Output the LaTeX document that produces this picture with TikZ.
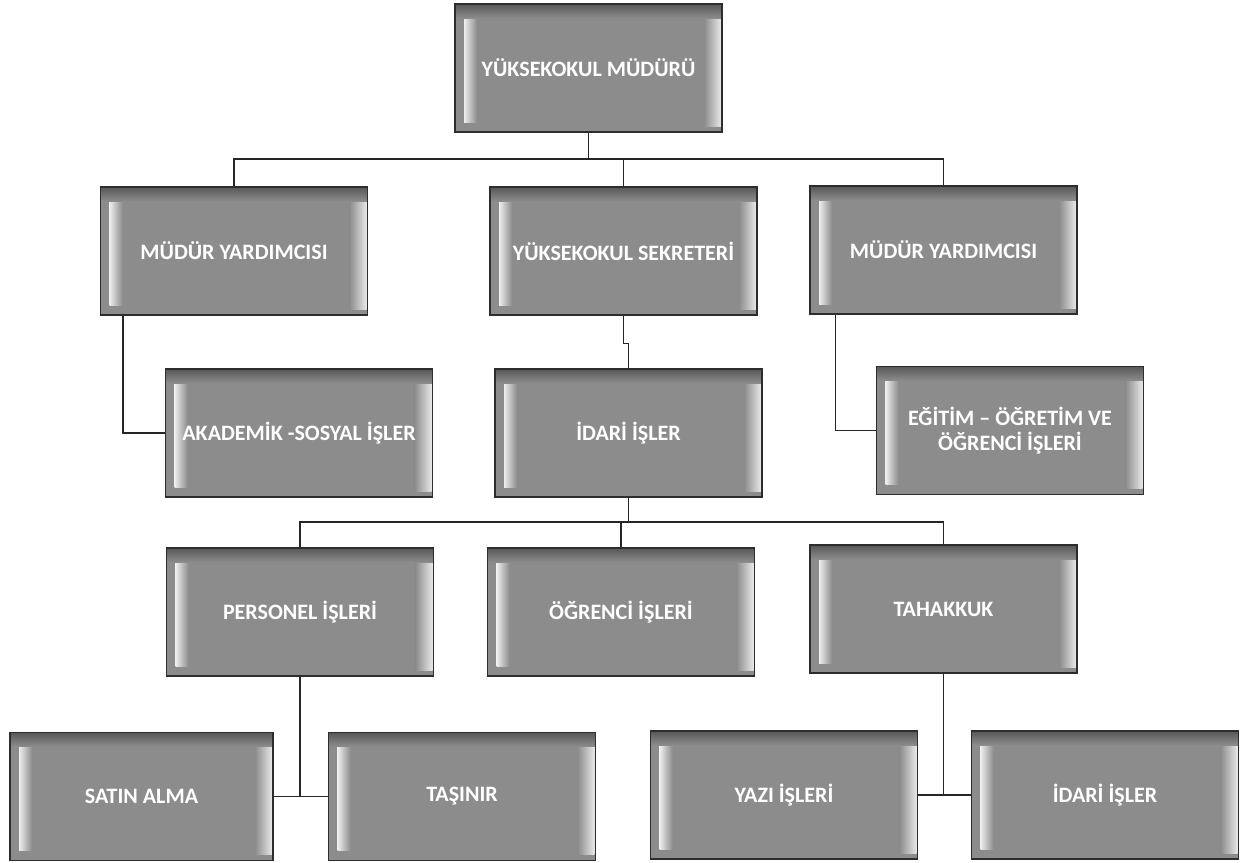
\documentclass[tikz,border=0pt]{standalone}
\usepackage{fontspec}
\setmainfont{Carlito}
\usetikzlibrary{calc}
\definecolor{boxgray}{RGB}{140,140,140}
\definecolor{edgegray}{RGB}{45,45,45}
\tikzset{
  orgbox/.style={draw=edgegray, line width=1.2pt, fill=boxgray,
    minimum width=267pt, minimum height=128pt, inner sep=1pt,
    text=white, font=\bfseries\fontsize{22}{25}\selectfont, align=center,
    path picture={
      \path (path picture bounding box.south west) coordinate (pSW)
            (path picture bounding box.north east) coordinate (pNE);
      \shade[left color=white!85!boxgray, right color=boxgray]
        ($(pSW)+(9pt,10pt)$) rectangle ($(pSW|-pNE)+(22pt,-10pt)$);
      \shade[left color=boxgray, right color=white!80!boxgray]
        ($(pNE|-pSW)+(-18pt,6pt)$) rectangle ($(pNE)+(-1pt,-6pt)$);
      \shade[top color=black!35!boxgray, bottom color=boxgray]
        ($(pSW|-pNE)+(0,-1pt)$) rectangle ($(pNE)+(0,-14pt)$);
    }},
  link/.style={draw=black!85, line width=1.3pt}
}
\begin{document}
\begin{tikzpicture}[x=1pt,y=-1pt]
\useasboundingbox[fill=white] (0,0) rectangle (1241,862);
% level 1
\node[orgbox] (top) at (588.5,68) {YÜKSEKOKUL MÜDÜRÜ};
% level 2
\node[orgbox] (myL) at (234,251) {MÜDÜR YARDIMCISI};
\node[orgbox] (sek) at (623.5,251) {YÜKSEKOKUL SEKRETERİ};
\node[orgbox] (myR) at (943.5,250) {MÜDÜR YARDIMCISI};
% level 3
\node[orgbox] (aka) at (299,433) {AKADEMİK -SOSYAL İŞLER};
\node[orgbox] (ida) at (628.5,433) {İDARİ İŞLER};
\node[orgbox] (egi) at (1010,430.5) {EĞİTİM – ÖĞRETİM VE\\ÖĞRENCİ İŞLERİ};
% level 4
\node[orgbox] (per) at (300,612) {PERSONEL İŞLERİ};
\node[orgbox] (ogr) at (621,612) {ÖĞRENCİ İŞLERİ};
\node[orgbox] (tah) at (943.5,609) {TAHAKKUK};
% level 5
\node[orgbox, minimum width=263pt] (sat) at (141.5,796.5) {SATIN ALMA};
\node[orgbox] (tas) at (462,796.5) {TAŞINIR};
\node[orgbox] (yaz) at (784,795) {YAZI İŞLERİ};
\node[orgbox] (id2) at (1105,795) {İDARİ İŞLER};
% bus coordinates
\coordinate (busA) at (0,159);
\coordinate (busB) at (0,522);
% connectors
\draw[link] (top.south) -- (top.south |- busA);
\draw[link] (myL.north) |- (myR.north |- busA) -- (myR.north);
\draw[link] (sek.north) -- (sek.north |- busA);
\draw[link] ($(myL.south west)+(23pt,0)$) |- (aka.west);
\draw[link] ($(myR.south west)+(26pt,0)$) |- (egi.west);
\draw[link] (sek.south) -- ++(0,28) -| (ida.north);
\draw[link] (ida.south) -- (ida.south |- busB);
\draw[link] (per.north) |- (tah.north |- busB) -- (tah.north);
\draw[link] (ogr.north) -- (ogr.north |- busB);
\draw[link] (per.south) -- (per.south |- sat.east);
\draw[link] (sat.east) -- (tas.west);
\draw[link] (tah.south) -- (tah.south |- yaz.east);
\draw[link] (yaz.east) -- (id2.west);
\end{tikzpicture}
\end{document}
